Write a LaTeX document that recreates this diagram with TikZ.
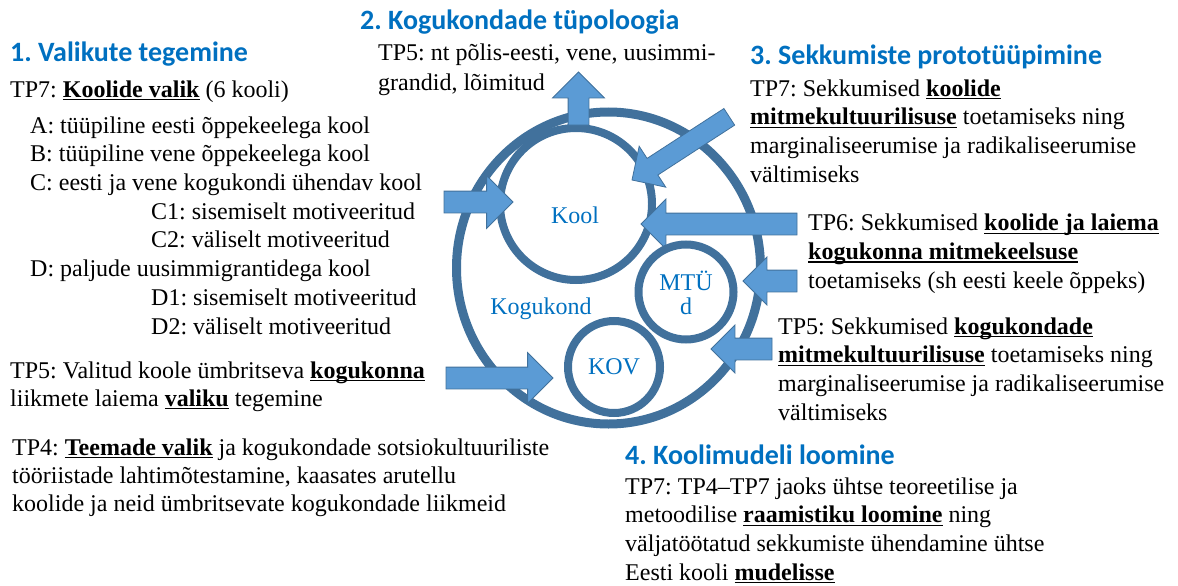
\documentclass[tikz,border=0pt]{standalone}
\usepackage{fontspec}
\setmainfont{Liberation Serif}
\newfontfamily\headfont{Carlito}
\usetikzlibrary{shapes.arrows,shapes.geometric}
\definecolor{ringblue}{HTML}{41719C}
\definecolor{arrowblue}{HTML}{5B9BD5}
\definecolor{headblue}{HTML}{0070C0}
\frenchspacing
% bold text with a fixed-depth underline
\newsavebox\ulbox
\newcommand\ub[1]{\sbox\ulbox{\textbf{#1}}\rlap{\rule[-3.2pt]{\wd\ulbox}{1.3pt}}\usebox\ulbox}

% paragraphs are placed by the baseline of their last line
\tikzset{
  heading/.style={font=\headfont\bfseries\fontsize{28}{32}\selectfont, text=headblue,
    anchor=base west, inner sep=0pt},
  para/.style={font=\fontsize{24}{28.6}\selectfont, anchor=base west, inner sep=0pt, align=left},
  ringlabel/.style={font=\fontsize{24}{25}\selectfont, text=headblue, inner sep=0pt, align=center},
  ring/.style={circle, draw=ringblue, line width=8pt, inner sep=0pt},
  blockarrow/.style={single arrow, draw=ringblue, fill=arrowblue, line width=0.8pt,
    inner xsep=0pt, outer sep=0pt, text height=0pt, text depth=0pt,
    single arrow tip angle=90, anchor=tip},
}

\begin{document}
\begin{tikzpicture}[x=1pt,y=-1pt]
\useasboundingbox (0,0) rectangle (1178,586);

% rings: community, school, local government
\node[ellipse, draw=ringblue, line width=9pt, inner sep=0pt,
      minimum width=304, minimum height=312] (kogukond) at (608.5,268) {};
\node[ring, minimum size=152] (kool) at (576,204) {};
\node[ring, minimum size=92] (kov) at (614,367) {};

% block arrows
\node[blockarrow, rotate=90,  minimum height=53,  inner ysep=10,  single arrow head extend=15.5] (a1) at (578.5,72) {};
\node[blockarrow, rotate=0,   minimum height=69,  inner ysep=10.5, single arrow head extend=15.5] (a2) at (513,202) {};
\node[blockarrow, rotate=0,   minimum height=107, inner ysep=10.5, single arrow head extend=14.5] (a3) at (553,378) {};
\node[blockarrow, rotate=213, minimum height=116, inner ysep=9.5, single arrow head extend=14.5] (a4) at (632,180) {};
\node[blockarrow, rotate=180, minimum height=156, inner ysep=10.5, single arrow head extend=14] (a5) at (641,224) {};
\node[blockarrow, rotate=180, minimum height=54,  inner ysep=10.5, single arrow head extend=13] (a6) at (743,281) {};
\node[blockarrow, rotate=180, minimum height=61,  inner ysep=10.5, single arrow head extend=13] (a7) at (711,349) {};

% NGO ring
\node[ring, minimum size=95] (mtud) at (686,292) {};

% ring labels
\node[ringlabel] (koollbl) at (575,215) {Kool};
\node[ringlabel] (kogulbl) at (541,309) {Kogukond};
\node[ringlabel] (mtulbl) at (686,293) {MTÜ\\[-1pt]d};
\node[ringlabel] (kovlbl) at (614,367) {KOV};

% step 1
\node[heading] (h1) at (10,62) {1. Valikute tegemine};
\node[para] (p1) at (10,97) {TP7: \ub{Koolide valik} (6 kooli)};
\node[para, font=\fontsize{24}{28.7}\selectfont] (list) at (30,334) {A: tüüpiline eesti õppekeelega kool\\
B: tüüpiline vene õppekeelega kool\\
C: eesti ja vene kogukondi ühendav kool\\
\hspace*{121pt}C1: sisemiselt motiveeritud\\
\hspace*{121pt}C2: väliselt motiveeritud\\
D: paljude uusimmigrantidega kool\\
\hspace*{121pt}D1: sisemiselt motiveeritud\\
\hspace*{121pt}D2: väliselt motiveeritud};
\node[para, font=\fontsize{24}{28}\selectfont] (p2) at (10,406) {TP5: Valitud koole ümbritseva \ub{kogukonna}\\
liikmete laiema \ub{valiku} tegemine};
\node[para, font=\fontsize{24}{28}\selectfont] (p3) at (12,511) {TP4: \ub{Teemade valik} ja kogukondade sotsiokultuuriliste\\
tööriistade lahtimõtestamine, kaasates arutellu\\
koolide ja neid ümbritsevate kogukondade liikmeid};

% step 2
\node[heading] (h2) at (360,30) {2. Kogukondade tüpoloogia};
\node[para, font=\fontsize{24}{30}\selectfont] (p4) at (378,91) {TP5: nt põlis-eesti, vene, uusimmi-\\
grandid, lõimitud};

% step 3
\node[heading] (h3) at (750,64) {3. Sekkumiste prototüüpimine};
\node[para] (p5) at (750,182) {TP7: Sekkumised \ub{koolide}\\
\ub{mitmekultuurilisuse} toetamiseks ning\\
marginaliseerumise ja radikaliseerumise\\
vältimiseks};
\node[para] (p6) at (808,288) {TP6: Sekkumised \ub{koolide ja laiema}\\
\ub{kogukonna mitmekeelsuse}\\
toetamiseks (sh eesti keele õppeks)};
\node[para] (p7) at (778,420) {TP5: Sekkumised \ub{kogukondade}\\
\ub{mitmekultuurilisuse} toetamiseks ning\\
marginaliseerumise ja radikaliseerumise\\
vältimiseks};

% step 4
\node[heading] (h4) at (625,464) {4. Koolimudeli loomine};
\node[para] (p8) at (625,580) {TP7: TP4--TP7 jaoks ühtse teoreetilise ja\\
metoodilise \ub{raamistiku loomine} ning\\
väljatöötatud sekkumiste ühendamine ühtse\\
Eesti kooli \ub{mudelisse}};
\end{tikzpicture}
\end{document}
